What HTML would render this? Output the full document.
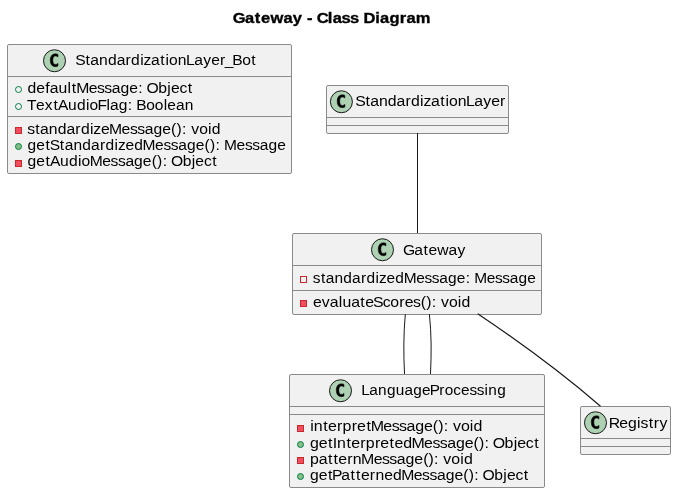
<!DOCTYPE html>
<html><head><meta charset="utf-8"><title>Gateway - Class Diagram</title>
<style>
html,body{margin:0;padding:0;background:#fff;width:676px;height:493px;overflow:hidden}
svg{display:block;will-change:transform}
text{font-family:"Liberation Sans",sans-serif;font-size:14.7px;fill:#000}
</style></head><body>
<svg width="676" height="493" viewBox="0 0 676 493">
<text transform="translate(233.3,23) scale(1.1219,1)" x="-0.60 10.36 19.20 24.77 33.14 44.74 53.02 61.30 65.66 70.83 74.31 84.30 88.60 96.52 103.95 111.88 115.97 126.55 130.85 139.13 148.30 154.36 162.62" y="0" font-weight="bold" stroke="#000" stroke-width="0.35">Gateway - Class Diagram</text>
<rect x="7.5" y="44.5" width="284" height="129" rx="1.5" ry="1.5" fill="#F1F1F1" stroke="#8a8a8a" stroke-width="1"/><line x1="8" x2="291" y1="76.5" y2="76.5" stroke="#8a8a8a" stroke-width="1"/><line x1="8" x2="291" y1="116.5" y2="116.5" stroke="#8a8a8a" stroke-width="1"/>
<circle cx="54.5" cy="60.75" r="11" fill="#ADD1B2" stroke="#181818" stroke-width="1"/><path transform="translate(4.250,37.400)" d="M53.7188,28.6406 Q53.1406,28.9375 52.5,29.0781 Q51.8594,29.2344 51.1563,29.2344 Q48.6563,29.2344 47.3281,27.5938 Q46.0156,25.9375 46.0156,22.8125 Q46.0156,19.6875 47.3281,18.0313 Q48.6563,16.375 51.1563,16.375 Q51.8594,16.375 52.5,16.5313 Q53.1563,16.6875 53.7188,16.9844 L53.7188,19.7031 Q53.0938,19.125 52.5,18.8594 Q51.9063,18.5781 51.2813,18.5781 Q49.9375,18.5781 49.25,19.6563 Q48.5625,20.7188 48.5625,22.8125 Q48.5625,24.9063 49.25,25.9844 Q49.9375,27.0469 51.2813,27.0469 Q51.9063,27.0469 52.5,26.7813 Q53.0938,26.5 53.7188,25.9219 Z" fill="#000" stroke="#000" stroke-width="0.5"/><text transform="translate(76.0,65) scale(1.0656,1)" x="-0.73 8.87 13.43 21.62 29.95 38.15 46.51 51.74 60.19 63.42 70.48 79.13 83.94 87.33 95.51 103.34 111.02 119.35 126.86 135.25 139.59 146.57 155.91 164.55" y="0">StandardizationLayer_Bot</text>
<circle cx="18.5" cy="89.5" r="3" fill="none" stroke="#038048" stroke-width="1"/><text transform="translate(27.4,93) scale(1.0709,1)" x="0.06 8.23 16.60 20.86 29.01 37.42 41.39 45.52 57.21 65.05 71.86 78.86 87.02 95.19 103.46 107.74 111.29 122.21 130.63 134.01 142.04 149.83" y="0">defaultMessage: Object</text><circle cx="18.5" cy="106.5" r="3" fill="none" stroke="#038048" stroke-width="1"/><text transform="translate(27.4,110) scale(1.0580,1)" x="-0.45 8.07 16.46 24.61 28.87 38.40 46.79 55.29 58.72 66.17 74.67 78.11 86.36 94.84 99.17 102.95 112.35 120.45 128.79 132.24 140.37 148.62" y="0">TextAudioFlag: Boolean</text><rect x="15.5" y="127.5" width="6" height="6" fill="#F24D5C" stroke="#C82930" stroke-width="1"/><text transform="translate(27.4,134) scale(1.0703,1)" x="-0.27 7.34 11.86 20.02 28.31 36.47 44.81 50.01 58.43 61.64 68.68 76.31 88.01 95.86 102.67 109.67 117.83 126.01 134.22 139.33 144.49 148.77 153.09 160.54 168.82 172.33" y="0">standardizeMessage(): void</text><circle cx="18.5" cy="146.5" r="3" fill="#84BE84" stroke="#038048" stroke-width="1"/><text transform="translate(27.4,150) scale(1.0579,1)" x="0.11 8.38 17.09 21.03 30.68 35.29 43.53 51.93 60.18 68.60 73.88 82.37 85.64 92.77 101.04 108.91 120.73 128.66 135.55 142.64 150.90 159.17 167.46 172.62 177.84 182.17 185.90 197.72 205.65 212.54 219.63 227.89 236.16" y="0">getStandardizedMessage(): Message</text><rect x="15.5" y="160.5" width="6" height="6" fill="#F24D5C" stroke="#C82930" stroke-width="1"/><text transform="translate(27.4,166) scale(1.0657,1)" x="0.08 8.29 16.95 21.16 30.63 38.97 47.42 50.80 58.45 70.20 78.07 84.92 91.95 100.15 108.36 116.60 121.73 126.91 131.21 134.79 145.76 154.21 157.62 165.69 173.51" y="0">getAudioMessage(): Object</text>
<rect x="326.5" y="85.5" width="182" height="48" rx="1.5" ry="1.5" fill="#F1F1F1" stroke="#8a8a8a" stroke-width="1"/><line x1="327" x2="508" y1="117.5" y2="117.5" stroke="#8a8a8a" stroke-width="1"/><line x1="327" x2="508" y1="125.5" y2="125.5" stroke="#8a8a8a" stroke-width="1"/>
<circle cx="341.4" cy="101.75" r="11" fill="#ADD1B2" stroke="#181818" stroke-width="1"/><path transform="translate(291.150,78.400)" d="M53.7188,28.6406 Q53.1406,28.9375 52.5,29.0781 Q51.8594,29.2344 51.1563,29.2344 Q48.6563,29.2344 47.3281,27.5938 Q46.0156,25.9375 46.0156,22.8125 Q46.0156,19.6875 47.3281,18.0313 Q48.6563,16.375 51.1563,16.375 Q51.8594,16.375 52.5,16.5313 Q53.1563,16.6875 53.7188,16.9844 L53.7188,19.7031 Q53.0938,19.125 52.5,18.8594 Q51.9063,18.5781 51.2813,18.5781 Q49.9375,18.5781 49.25,19.6563 Q48.5625,20.7188 48.5625,22.8125 Q48.5625,24.9063 49.25,25.9844 Q49.9375,27.0469 51.2813,27.0469 Q51.9063,27.0469 52.5,26.7813 Q53.0938,26.5 53.7188,25.9219 Z" fill="#000" stroke="#000" stroke-width="0.5"/><text transform="translate(356.0,106) scale(1.0769,1)" x="-0.78 8.76 13.25 21.35 29.59 37.70 46.00 51.16 59.55 62.72 69.70 78.28 83.05 86.37 94.47 102.21 109.82 118.06 125.49 133.80" y="0">StandardizationLayer</text>
<rect x="292.5" y="233.5" width="249" height="81" rx="1.5" ry="1.5" fill="#F1F1F1" stroke="#8a8a8a" stroke-width="1"/><line x1="293" x2="541" y1="265.5" y2="265.5" stroke="#8a8a8a" stroke-width="1"/><line x1="293" x2="541" y1="290.5" y2="290.5" stroke="#8a8a8a" stroke-width="1"/>
<circle cx="382.5" cy="249.75" r="11" fill="#ADD1B2" stroke="#181818" stroke-width="1"/><path transform="translate(332.250,226.400)" d="M53.7188,28.6406 Q53.1406,28.9375 52.5,29.0781 Q51.8594,29.2344 51.1563,29.2344 Q48.6563,29.2344 47.3281,27.5938 Q46.0156,25.9375 46.0156,22.8125 Q46.0156,19.6875 47.3281,18.0313 Q48.6563,16.375 51.1563,16.375 Q51.8594,16.375 52.5,16.5313 Q53.1563,16.6875 53.7188,16.9844 L53.7188,19.7031 Q53.0938,19.125 52.5,18.8594 Q51.9063,18.5781 51.2813,18.5781 Q49.9375,18.5781 49.25,19.6563 Q48.5625,20.7188 48.5625,22.8125 Q48.5625,24.9063 49.25,25.9844 Q49.9375,27.0469 51.2813,27.0469 Q51.9063,27.0469 52.5,26.7813 Q53.0938,26.5 53.7188,25.9219 Z" fill="#000" stroke="#000" stroke-width="0.5"/><text transform="translate(403.6,255) scale(1.0661,1)" x="-0.63 10.11 18.76 23.32 31.51 42.13 50.45" y="0">Gateway</text>
<rect x="300.5" y="276.5" width="6" height="6" fill="none" stroke="#C82930" stroke-width="1"/><text transform="translate(313,283) scale(1.0535,1)" x="-0.21 7.49 12.12 20.40 28.83 37.12 45.56 50.87 59.39 62.68 69.84 78.15 86.06 97.92 105.88 112.80 119.92 128.21 136.52 144.89 149.24 153.00 164.86 172.82 179.75 186.87 195.15 203.46" y="0">standardizedMessage: Message</text><rect x="300.5" y="300.5" width="6" height="6" fill="#F24D5C" stroke="#C82930" stroke-width="1"/><text transform="translate(313,307) scale(1.0766,1)" x="-0.09 8.17 15.59 23.84 27.31 35.42 44.00 48.50 55.81 64.74 71.88 80.18 85.21 93.01 100.16 105.23 110.37 114.62 118.91 126.32 134.56 138.04" y="0">evaluateScores(): void</text>
<rect x="289.5" y="374.5" width="255" height="113" rx="1.5" ry="1.5" fill="#F1F1F1" stroke="#8a8a8a" stroke-width="1"/><line x1="290" x2="544" y1="406.5" y2="406.5" stroke="#8a8a8a" stroke-width="1"/><line x1="290" x2="544" y1="414.5" y2="414.5" stroke="#8a8a8a" stroke-width="1"/>
<circle cx="340.5" cy="390.75" r="11" fill="#ADD1B2" stroke="#181818" stroke-width="1"/><path transform="translate(290.250,367.400)" d="M53.7188,28.6406 Q53.1406,28.9375 52.5,29.0781 Q51.8594,29.2344 51.1563,29.2344 Q48.6563,29.2344 47.3281,27.5938 Q46.0156,25.9375 46.0156,22.8125 Q46.0156,19.6875 47.3281,18.0313 Q48.6563,16.375 51.1563,16.375 Q51.8594,16.375 52.5,16.5313 Q53.1563,16.6875 53.7188,16.9844 L53.7188,19.7031 Q53.0938,19.125 52.5,18.8594 Q51.9063,18.5781 51.2813,18.5781 Q49.9375,18.5781 49.25,19.6563 Q48.5625,20.7188 48.5625,22.8125 Q48.5625,24.9063 49.25,25.9844 Q49.9375,27.0469 51.2813,27.0469 Q51.9063,27.0469 52.5,26.7813 Q53.0938,26.5 53.7188,25.9219 Z" fill="#000" stroke="#000" stroke-width="0.5"/><text transform="translate(361.5,395) scale(1.0455,1)" x="-0.36 7.48 15.82 24.32 32.81 41.16 49.51 57.88 65.22 74.47 79.67 87.87 95.25 103.27 110.25 117.64 121.29 129.78" y="0">LanguageProcessing</text>
<rect x="297.5" y="425.5" width="6" height="6" fill="#F24D5C" stroke="#C82930" stroke-width="1"/><text transform="translate(310,431) scale(1.0880,1)" x="0.15 3.57 12.21 16.65 24.89 29.98 38.35 43.31 51.84 55.83 67.38 75.10 81.80 88.69 96.71 104.76 112.86 117.88 122.97 127.18 131.40 138.73 146.91 150.33" y="0">interpretMessage(): void</text><circle cx="300.5" cy="444.5" r="3" fill="#84BE84" stroke="#038048" stroke-width="1"/><text transform="translate(310,448) scale(1.0828,1)" x="0.02 8.10 16.65 21.10 25.05 33.73 38.20 46.47 51.60 60.00 64.99 73.55 78.02 86.10 93.74 105.33 113.09 119.83 126.75 134.81 142.89 151.03 156.08 161.18 165.41 168.88 179.70 188.06 191.38 199.32 207.04" y="0">getInterpretedMessage(): Object</text><rect x="297.5" y="457.5" width="6" height="6" fill="#F24D5C" stroke="#C82930" stroke-width="1"/><text transform="translate(310,464) scale(1.0827,1)" x="0.02 8.08 16.63 21.70 26.16 34.44 39.56 47.20 58.79 66.55 73.28 80.20 88.27 96.35 104.49 109.54 114.64 118.88 123.12 130.49 138.70 142.15" y="0">patternMessage(): void</text><circle cx="300.5" cy="476.5" r="3" fill="#84BE84" stroke="#038048" stroke-width="1"/><text transform="translate(310,480) scale(1.0710,1)" x="0.06 8.23 16.86 20.50 29.26 37.88 43.00 47.54 55.89 61.08 69.24 77.41 85.17 96.86 104.70 111.51 118.51 126.66 134.83 143.04 148.14 153.30 157.58 161.13 172.05 180.47 183.85 191.88 199.67" y="0">getPatternedMessage(): Object</text>
<rect x="580.5" y="406.5" width="90" height="48" rx="1.5" ry="1.5" fill="#F1F1F1" stroke="#8a8a8a" stroke-width="1"/><line x1="581" x2="670" y1="438.5" y2="438.5" stroke="#8a8a8a" stroke-width="1"/><line x1="581" x2="670" y1="446.5" y2="446.5" stroke="#8a8a8a" stroke-width="1"/>
<circle cx="595.5" cy="422.75" r="11" fill="#ADD1B2" stroke="#181818" stroke-width="1"/><path transform="translate(545.250,399.400)" d="M53.7188,28.6406 Q53.1406,28.9375 52.5,29.0781 Q51.8594,29.2344 51.1563,29.2344 Q48.6563,29.2344 47.3281,27.5938 Q46.0156,25.9375 46.0156,22.8125 Q46.0156,19.6875 47.3281,18.0313 Q48.6563,16.375 51.1563,16.375 Q51.8594,16.375 52.5,16.5313 Q53.1563,16.6875 53.7188,16.9844 L53.7188,19.7031 Q53.0938,19.125 52.5,18.8594 Q51.9063,18.5781 51.2813,18.5781 Q49.9375,18.5781 49.25,19.6563 Q48.5625,20.7188 48.5625,22.8125 Q48.5625,24.9063 49.25,25.9844 Q49.9375,27.0469 51.2813,27.0469 Q51.9063,27.0469 52.5,26.7813 Q53.0938,26.5 53.7188,25.9219 Z" fill="#000" stroke="#000" stroke-width="0.5"/><text transform="translate(609.7,428) scale(1.0747,1)" x="-0.78 8.97 17.11 25.51 28.67 36.25 41.08 46.38" y="0">Registry</text>
<line x1="417.5" y1="133" x2="417.5" y2="233" stroke="#181818" stroke-width="1"/>
<path d="M405.3,314 C403.5,335 403.5,353 404.5,374" fill="none" stroke="#181818" stroke-width="1"/>
<path d="M429.4,314 C431.5,335 431.5,353 430.5,374" fill="none" stroke="#181818" stroke-width="1"/>
<path d="M477.7,313.7 C517.8,340.6 560.5,371.6 600.5,406.2" fill="none" stroke="#181818" stroke-width="1.15"/>
</svg>
</body></html>
